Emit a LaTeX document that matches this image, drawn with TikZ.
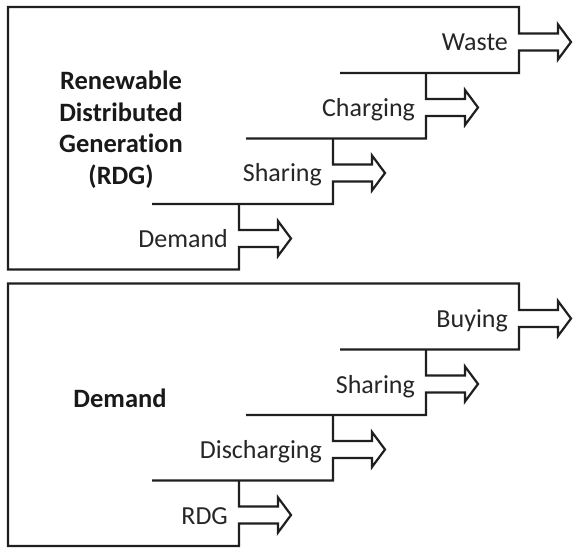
\documentclass[tikz,border=0pt]{standalone}
\usepackage{fontspec}
\setmainfont{Carlito}[Ligatures=NoCommon]

% Open block arrow whose tail sits on the vertical line at (#1,#2)
\newcommand\blockarrowpath[2]{(#1,#2+8.5) -- (#1+39,#2+8.5) -- (#1+39,#2+17.5)
  -- (#1+52,#2) -- (#1+39,#2-17.5) -- (#1+39,#2-8.5) -- (#1,#2-8.5)}

% One panel: a box whose right side steps down in four stairs,
% each stair sending one arrow out to the right.
% #1..#4: labels of the arrows (top to bottom), #5: panel name prefix
\newcommand\stairpanel[5]{%
  % outer frame, top arrow and bottom arrow in one stroke
  \draw[ink] (340,73) -- (519,73) -- \blockarrowpath{519}{42} -- (519,7) -- (8,7)
        -- (8,269.5) -- (239,269.5) -- \blockarrowpath{239}{238.5} -- (239,204);
  % middle stairs
  \draw[ink] (246,138.5) -- (426,138.5) -- \blockarrowpath{426}{107.5} -- (426,73);
  \draw[ink] (152,204) -- (333,204) -- \blockarrowpath{333}{173} -- (333,138.5);
  % arrow labels
  \node[flowlabel] (#5-a) at (509,51) {#1};
  \node[flowlabel] (#5-b) at (416,116.5) {#2};
  \node[flowlabel] (#5-c) at (323,182) {#3};
  \node[flowlabel] (#5-d) at (229,247.5) {#4};
}

\tikzset{
  ink/.style={draw=black!88},
  flowlabel/.style={anchor=base east, inner sep=0pt, text=black!85,
    font=\fontsize{26}{30}\selectfont},
  paneltitle/.style={inner sep=0pt, text=black!90, align=center,
    font=\fontsize{26.5}{31.5}\selectfont\bfseries},
}

\begin{document}
\begin{tikzpicture}[x=1pt, y=-1pt, line width=2.2pt, line join=miter]
  \useasboundingbox (0,0) rectangle (573,548);

  % upper panel: where renewable generation goes
  \stairpanel{Waste}{Charging}{Sharing}{Demand}{gen}
  \node[paneltitle] (gentitle) at (121,129.5)
    {Renewable\\Distributed\\Generation\\(RDG)};

  % lower panel: where demand is covered from
  \begin{scope}[shift={(0,276.5)}]
    \stairpanel{Buying}{Sharing}{Discharging}{RDG}{dem}
    \node[paneltitle, anchor=base] (demtitle) at (120,130.5) {Demand};
  \end{scope}
\end{tikzpicture}
\end{document}
